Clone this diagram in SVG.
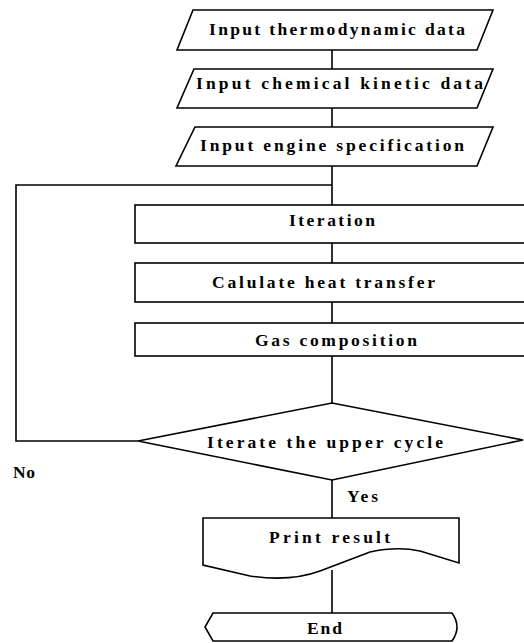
<svg xmlns="http://www.w3.org/2000/svg" width="524" height="643" viewBox="0 0 524 643">
<style>
.s{fill:#fff;stroke:#000;stroke-width:1.6;stroke-linejoin:miter}
.c{fill:none;stroke:#000;stroke-width:1.6}
.t{font-family:"Liberation Serif","DejaVu Serif",serif;font-weight:bold;font-size:17.5px;fill:#000}
</style>
<rect width="524" height="643" fill="#fff"/>
<g id="connectors">
<path class="c" d="M332 50V69M332 108V127M332 166V205M332 185H16V441H138M332 243V263M332 302V323M332 356V403M332 480V518M332 570V613"/>
</g>
<g id="n1"><polygon class="s" points="193,10 493,10 477,50 177,50"/><text class="t" x="209" y="35" textLength="256" lengthAdjust="spacing">Input thermodynamic data</text></g>
<g id="n2"><polygon class="s" points="194,69 493,69 477,108 177,108"/><text class="t" x="196" y="89" textLength="287" lengthAdjust="spacing">Input chemical kinetic data</text></g>
<g id="n3"><polygon class="s" points="195,127 493,127 477,166 176,166"/><text class="t" x="200" y="151" textLength="264" lengthAdjust="spacing">Input engine specification</text></g>
<g id="n4"><rect class="s" x="135" y="205" width="392" height="38"/><text class="t" x="289" y="226" textLength="86" lengthAdjust="spacing">Iteration</text></g>
<g id="n5"><rect class="s" x="135" y="263" width="392" height="39"/><text class="t" x="212" y="288" textLength="223" lengthAdjust="spacing">Calulate heat transfer</text></g>
<g id="n6"><rect class="s" x="135" y="323" width="392" height="33"/><text class="t" x="255" y="346" textLength="162" lengthAdjust="spacing">Gas composition</text></g>
<g id="n7"><polygon class="s" points="332,403 523,440 332,480 138,441"/><text class="t" x="207" y="448" textLength="236" lengthAdjust="spacing">Iterate the upper cycle</text></g>
<g id="lbl-no"><text class="t" x="13" y="478" textLength="22" lengthAdjust="spacing">No</text></g>
<g id="lbl-yes"><text class="t" x="347" y="502" textLength="31" lengthAdjust="spacing">Yes</text></g>
<g id="n8"><path class="s" d="M203 518H459V563L420 551Q397 546 370 552L320 571Q290 582 250 576L203 565Z"/><text class="t" x="269" y="543" textLength="121" lengthAdjust="spacing">Print result</text></g>
<g id="n9"><path class="s" d="M213 613H452Q457 620 457 627Q457 634 452 641H213L205 627Z"/><text class="t" x="307" y="634" textLength="35" lengthAdjust="spacing">End</text></g>
</svg>
